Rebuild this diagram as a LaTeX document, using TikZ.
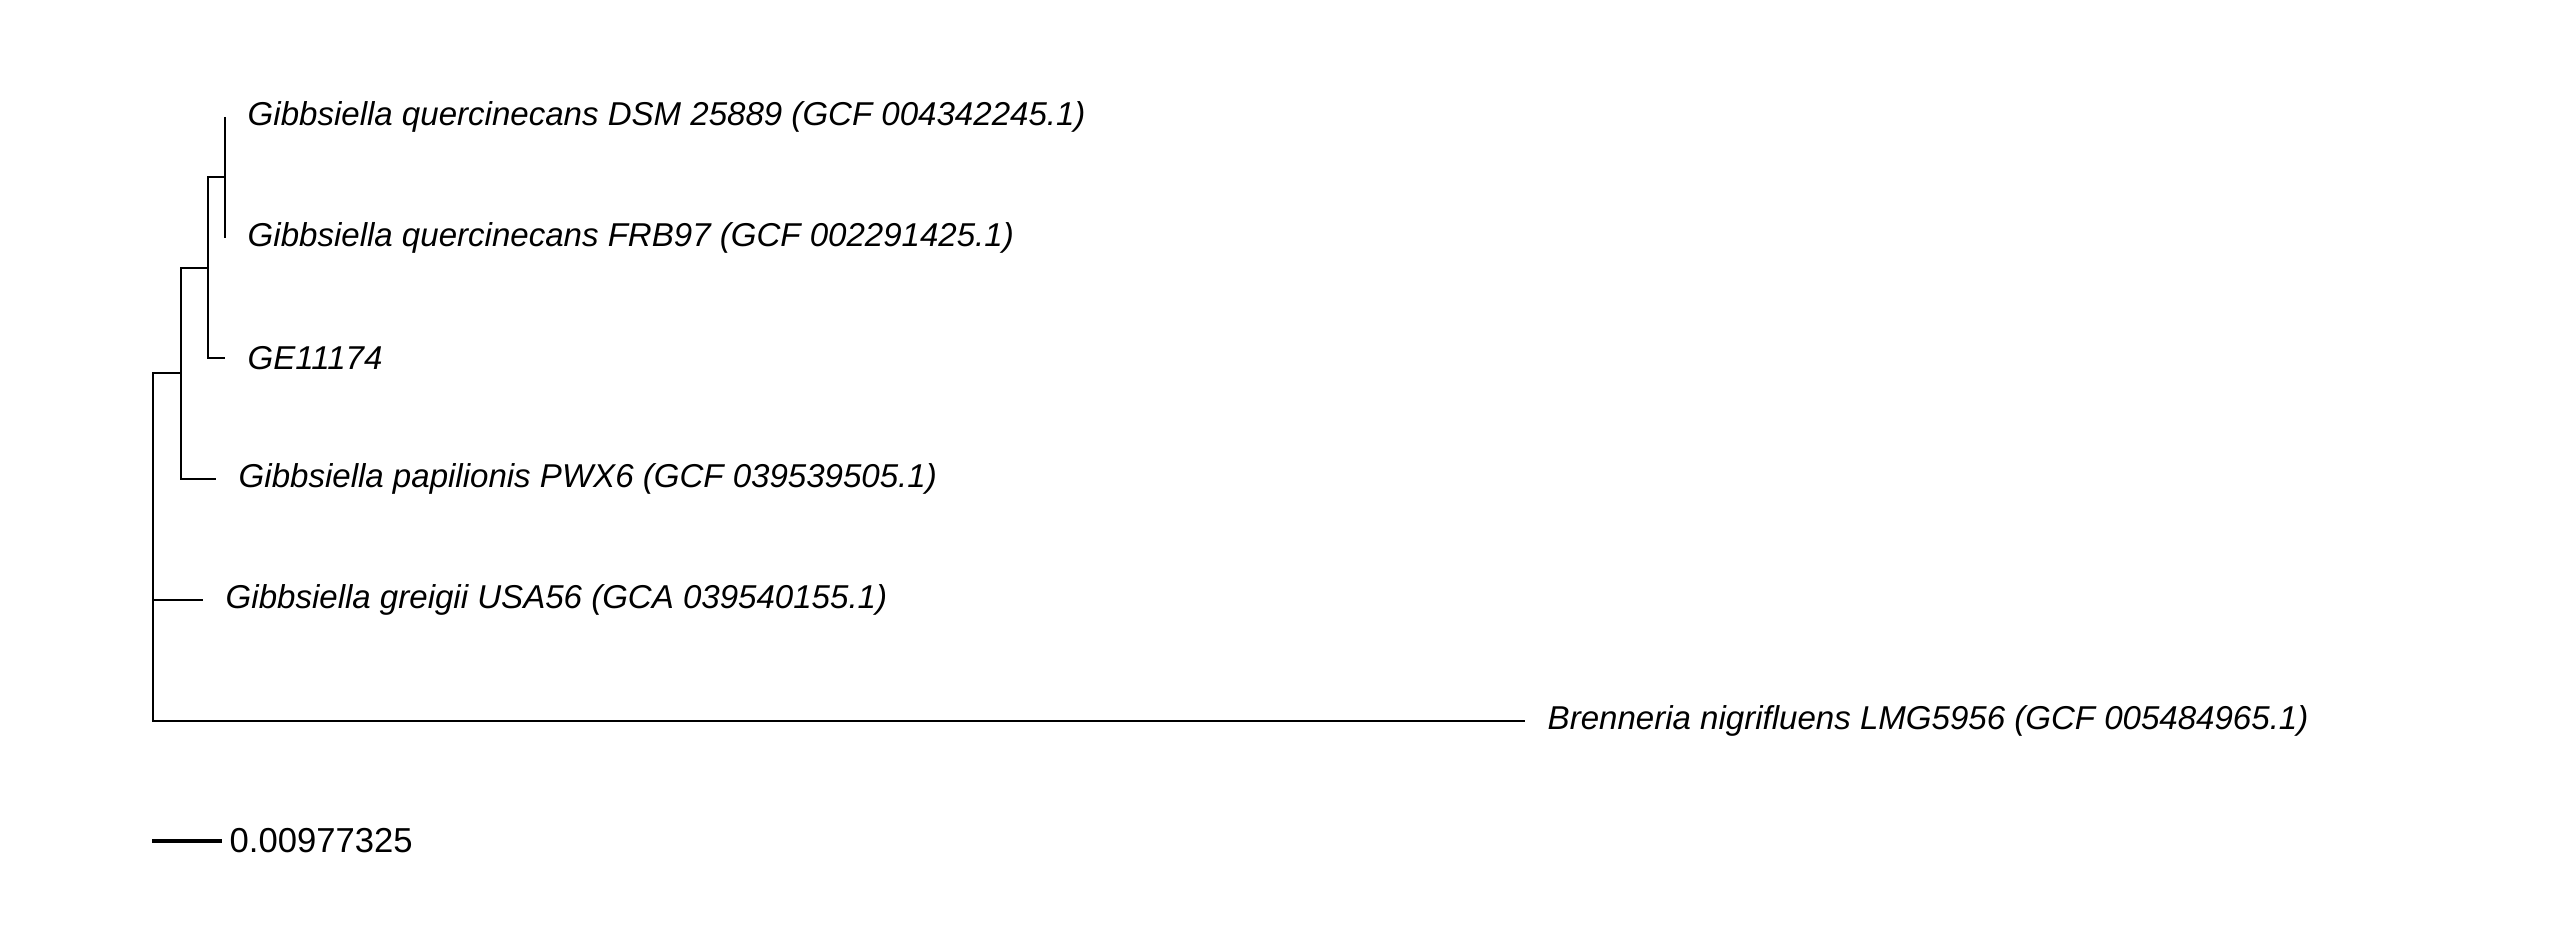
\documentclass[tikz,border=0pt]{standalone}
\usepackage{fontspec}
\setmainfont{Liberation Sans}
\usetikzlibrary{positioning}
\tikzset{
  branch/.style={line width=0.02cm},
  scalebar/.style={line width=0.045cm},
  taxon/.style={font=\fontsize{9.4}{11}\selectfont\itshape, inner sep=0pt},
  scalelabel/.style={font=\fontsize{9.85}{11}\selectfont, inner sep=0pt},
}
\begin{document}
\begin{tikzpicture}[x=0.01cm, y=-0.01cm]
		\useasboundingbox (0, 0) rectangle (2560, 931);
		%%%%% START %%%%%
		\coordinate (root) at (153, 600);
		\coordinate (cladeA) at (181, 373);
		\coordinate (cladeB) at (208, 268);
		\coordinate (cladeC) at (225, 177);
		
		\coordinate (tipDSM) at (225, 117);
		\coordinate (tipFRB) at (225, 238);
		\coordinate (tipGE) at (225, 358);
		\coordinate (tipPap) at (216, 479);
		\coordinate (tipGre) at (203, 600);
		\coordinate (tipBren) at (1525, 721);
		
		\draw[branch] (tipDSM) -- (tipFRB);
		\draw[branch] (cladeC) -| (cladeB) |- (tipGE);
		\draw[branch] (cladeB) -| (cladeA) |- (tipPap);
		\draw[branch] (cladeA) -| (root) |- (tipBren);
		\draw[branch] (root) -- (tipGre);
		
		\node[taxon, right=0.22cm of tipDSM] (lDSM) {Gibbsiella quercinecans DSM 25889 (GCF 004342245.1)};
		\node[taxon, right=0.22cm of tipFRB] (lFRB) {Gibbsiella quercinecans FRB97 (GCF 002291425.1)};
		\node[taxon, right=0.22cm of tipGE] (lGE) {GE11174};
		\node[taxon, right=0.22cm of tipPap] (lPap) {Gibbsiella papilionis PWX6 (GCF 039539505.1)};
		\node[taxon, right=0.22cm of tipGre] (lGre) {Gibbsiella greigii USA56 (GCA 039540155.1)};
		\node[taxon, right=0.22cm of tipBren] (lBren) {Brenneria nigrifluens LMG5956 (GCF 005484965.1)};
		
		%%%%% SCALE %%%%%
		\coordinate (sbL) at (152, 841);
		\coordinate (sbR) at (222, 841);
		\draw[scalebar] (sbL) -- (sbR);
		\node[scalelabel, right=0.07cm of sbR] (sbText) {0.00977325};
		%%%%% END %%%%%
	\end{tikzpicture}
\end{document}
